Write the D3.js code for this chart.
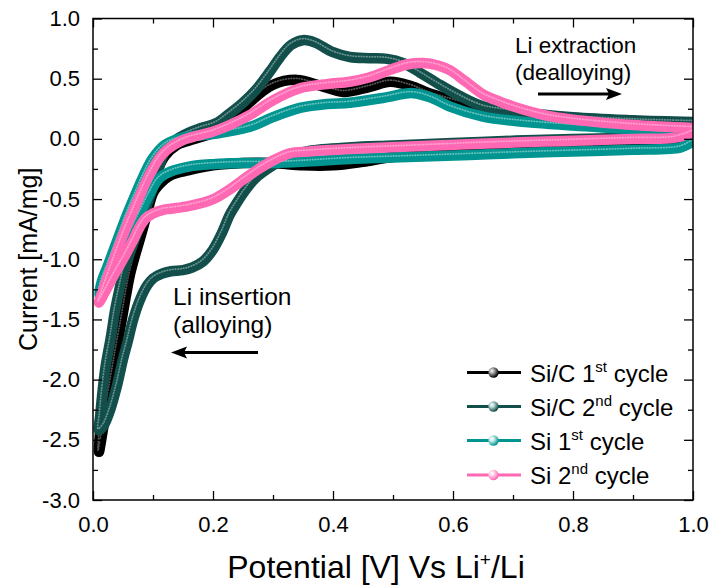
<!DOCTYPE html>
<html>
<head>
<meta charset="utf-8">
<script src="https://cdn.jsdelivr.net/npm/d3@7"></script>
<style>
  html, body { margin: 0; padding: 0; background: #fff; }
  svg { display: block; }
  text { font-family: "Liberation Sans", Arial, sans-serif; fill: #000; }
</style>
</head>
<body>
<svg id="chart" width="710" height="587"></svg>
<script>
// ---------------- DATA ----------------
// Each loop: cathodic sweep 1.0 V -> 0.01 V, then anodic sweep back to 1.0 V
const sic1Potential = [1.0, 0.9, 0.8, 0.7, 0.6, 0.5, 0.45, 0.4, 0.35, 0.3, 0.25, 0.2, 0.16, 0.13, 0.11, 0.1, 0.09, 0.08, 0.07, 0.062, 0.055, 0.048, 0.04, 0.032, 0.024, 0.017, 0.012, 0.01,
  0.013, 0.018, 0.025, 0.033, 0.04, 0.047, 0.055, 0.065, 0.077, 0.09, 0.105, 0.12, 0.14, 0.17, 0.2, 0.23, 0.26, 0.3, 0.34, 0.38, 0.417, 0.46, 0.495, 0.53, 0.56, 0.6, 0.65, 0.7, 0.8, 0.9, 1.0];
const sic1Current = [-0.02, -0.05, -0.07, -0.1, -0.12, -0.15, -0.19, -0.22, -0.22, -0.2, -0.2, -0.22, -0.26, -0.3, -0.38, -0.45, -0.62, -0.8, -0.97, -1.12, -1.3, -1.5, -1.72, -1.95, -2.18, -2.4, -2.55, -2.6,
  -2.35, -2.1, -1.85, -1.6, -1.4, -1.2, -1.02, -0.85, -0.66, -0.47, -0.28, -0.14, -0.05, 0.0, 0.05, 0.15, 0.3, 0.45, 0.49, 0.44, 0.39, 0.43, 0.475, 0.44, 0.38, 0.32, 0.26, 0.21, 0.16, 0.13, 0.11];

const sic2Potential = [1.0, 0.97, 0.9, 0.8, 0.645, 0.5, 0.43, 0.36, 0.33, 0.3, 0.27, 0.255, 0.24, 0.228, 0.215, 0.2, 0.183, 0.165, 0.15, 0.13, 0.115, 0.1, 0.09, 0.078, 0.067, 0.058, 0.05, 0.04, 0.028, 0.018, 0.01,
  0.012, 0.015, 0.021, 0.03, 0.037, 0.045, 0.052, 0.062, 0.075, 0.087, 0.1, 0.11, 0.12, 0.135, 0.155, 0.18, 0.205, 0.225, 0.25, 0.272, 0.295, 0.312, 0.33, 0.35, 0.37, 0.4, 0.428, 0.46, 0.49, 0.517, 0.545, 0.573, 0.61, 0.65, 0.7, 0.8, 0.9, 1.0];
const sic2Current = [0.1, 0.02, 0.01, 0.0, -0.025, -0.055, -0.07, -0.1, -0.14, -0.22, -0.33, -0.42, -0.53, -0.63, -0.78, -0.92, -1.02, -1.07, -1.09, -1.1, -1.12, -1.16, -1.22, -1.34, -1.5, -1.68, -1.83, -2.05, -2.26, -2.38, -2.42,
  -2.3, -2.14, -1.89, -1.64, -1.42, -1.23, -1.08, -0.94, -0.76, -0.59, -0.4, -0.24, -0.1, -0.02, 0.04, 0.09, 0.13, 0.2, 0.3, 0.41, 0.56, 0.68, 0.78, 0.82, 0.8, 0.72, 0.68, 0.67, 0.665, 0.63, 0.55, 0.465, 0.36, 0.27, 0.23, 0.18, 0.155, 0.14];

const si1Potential = [1.0, 0.98, 0.9, 0.8, 0.7, 0.628, 0.5, 0.428, 0.35, 0.3, 0.25, 0.2, 0.16, 0.13, 0.11, 0.095, 0.08, 0.06, 0.04, 0.025, 0.015, 0.01,
  0.015, 0.025, 0.04, 0.055, 0.07, 0.085, 0.1, 0.12, 0.15, 0.2, 0.262, 0.3, 0.345, 0.39, 0.428, 0.483, 0.533, 0.565, 0.595, 0.65, 0.7, 0.8, 0.9, 1.0];
const si1Current = [-0.02, -0.07, -0.09, -0.105, -0.12, -0.133, -0.155, -0.167, -0.19, -0.2, -0.2, -0.21, -0.23, -0.27, -0.33, -0.45, -0.6, -0.8, -1.0, -1.15, -1.25, -1.3,
  -1.18, -1.05, -0.85, -0.65, -0.47, -0.3, -0.16, -0.05, 0.01, 0.04, 0.1, 0.18, 0.257, 0.29, 0.3, 0.34, 0.38, 0.34, 0.268, 0.185, 0.15, 0.11, 0.08, 0.04];

const si2Potential = [1.0, 0.97, 0.9, 0.8, 0.645, 0.55, 0.428, 0.36, 0.328, 0.3, 0.273, 0.25, 0.228, 0.205, 0.19, 0.157, 0.13, 0.117, 0.1, 0.088, 0.078, 0.065, 0.05, 0.035, 0.02, 0.01,
  0.015, 0.028, 0.05, 0.073, 0.095, 0.117, 0.15, 0.2, 0.23, 0.262, 0.3, 0.345, 0.39, 0.428, 0.46, 0.495, 0.525, 0.55, 0.575, 0.595, 0.62, 0.65, 0.678, 0.7, 0.75, 0.8, 0.9, 1.0];
const si2Current = [0.06, 0.01, 0.0, -0.015, -0.04, -0.06, -0.085, -0.105, -0.12, -0.18, -0.26, -0.34, -0.42, -0.49, -0.52, -0.56, -0.58, -0.59, -0.62, -0.66, -0.73, -0.86, -1.0, -1.13, -1.27, -1.36,
  -1.28, -1.1, -0.8, -0.53, -0.29, -0.12, -0.01, 0.06, 0.12, 0.2, 0.32, 0.42, 0.455, 0.475, 0.51, 0.573, 0.62, 0.63, 0.61, 0.57, 0.48, 0.37, 0.31, 0.27, 0.2, 0.16, 0.115, 0.09];

const seriesNames = ["Si/C 1|st| cycle", "Si/C 2|nd| cycle", "Si 1|st| cycle", "Si 2|nd| cycle"];
const seriesColors = ["#000000", "#124f4b", "#009590", "#ff69b4"];
const highlightColors = ["#a8a8a8", "#b9d3d1", "#c4ecea", "#ffd6ea"];

const xTickValues = [0.0, 0.2, 0.4, 0.6, 0.8, 1.0];
const xMinorTickValues = [0.1, 0.3, 0.5, 0.7, 0.9];
const yTickValues = [-3.0, -2.5, -2.0, -1.5, -1.0, -0.5, 0.0, 0.5, 1.0];
const yMinorTickValues = [-2.75, -2.25, -1.75, -1.25, -0.75, -0.25, 0.25, 0.75];

// ---------------- CHART ----------------
const svg = d3.select("#chart");
const L = 93, R = 693, T = 18.5, B = 500;
const x = d3.scaleLinear().domain([0, 1]).range([L, R]);
const y = d3.scaleLinear().domain([-3, 1]).range([B, T]);

const seriesData = [
  d3.zip(sic1Potential, sic1Current),
  d3.zip(sic2Potential, sic2Current),
  d3.zip(si1Potential, si1Current),
  d3.zip(si2Potential, si2Current)
];

const defs = svg.append("defs");
defs.append("clipPath").attr("id", "plotclip")
  .append("rect").attr("x", L).attr("y", T).attr("width", R - L).attr("height", B - T);

seriesColors.forEach((c, i) => {
  const g = defs.append("radialGradient").attr("id", "ball" + i)
    .attr("cx", "35%").attr("cy", "35%").attr("r", "65%");
  g.append("stop").attr("offset", "0%").attr("stop-color", "#ffffff");
  g.append("stop").attr("offset", "35%").attr("stop-color", highlightColors[i]);
  g.append("stop").attr("offset", "100%").attr("stop-color", c);
});

const line = d3.line()
  .x(d => x(d[0]))
  .y(d => y(d[1]))
  .curve(d3.curveCatmullRom.alpha(0.5));

const plot = svg.append("g").attr("clip-path", "url(#plotclip)");
seriesData.forEach((data, i) => {
  const g = plot.append("g");
  g.append("path").datum(data).attr("d", line)
    .attr("fill", "none").attr("stroke", seriesColors[i])
    .attr("stroke-width", 10.5).attr("stroke-linejoin", "round").attr("stroke-linecap", "round");
  g.append("path").datum(data).attr("d", line)
    .attr("fill", "none").attr("stroke", highlightColors[i])
    .attr("stroke-width", 1.8).attr("stroke-linecap", "round")
    .attr("stroke-dasharray", "0.5 2.2").attr("opacity", 0.5)
    .attr("transform", "translate(-1,-1.5)");
});

// frame
svg.append("rect").attr("x", L).attr("y", T).attr("width", R - L).attr("height", B - T)
  .attr("fill", "none").attr("stroke", "#000").attr("stroke-width", 1.5);

// axes with inward ticks
function styleAxis(g) {
  g.select(".domain").remove();
  g.selectAll(".tick line").attr("stroke", "#000").attr("stroke-width", 1.3);
}
const fmt = d => d.toFixed(1);

svg.append("g").attr("transform", `translate(0,${B})`)
  .call(d3.axisBottom(x).tickValues(xTickValues).tickSize(-9).tickPadding(16).tickFormat(fmt))
  .call(styleAxis)
  .call(g => g.selectAll("text").attr("font-size", 22).attr("dy", "0.71em")
    .style("font-family", "'Liberation Sans', Arial, sans-serif"));
svg.append("g").attr("transform", `translate(0,${B})`)
  .call(d3.axisBottom(x).tickValues(xMinorTickValues).tickSize(-5).tickFormat(""))
  .call(styleAxis);
svg.append("g").attr("transform", `translate(0,${T})`)
  .call(d3.axisTop(x).tickValues(xTickValues).tickSize(-9).tickFormat(""))
  .call(styleAxis);
svg.append("g").attr("transform", `translate(0,${T})`)
  .call(d3.axisTop(x).tickValues(xMinorTickValues).tickSize(-5).tickFormat(""))
  .call(styleAxis);

svg.append("g").attr("transform", `translate(${L},0)`)
  .call(d3.axisLeft(y).tickValues(yTickValues).tickSize(-9).tickPadding(13).tickFormat(fmt))
  .call(styleAxis)
  .call(g => g.selectAll("text").attr("font-size", 22)
    .style("font-family", "'Liberation Sans', Arial, sans-serif"));
svg.append("g").attr("transform", `translate(${L},0)`)
  .call(d3.axisLeft(y).tickValues(yMinorTickValues).tickSize(-5).tickFormat(""))
  .call(styleAxis);
svg.append("g").attr("transform", `translate(${R},0)`)
  .call(d3.axisRight(y).tickValues(yTickValues).tickSize(-9).tickFormat(""))
  .call(styleAxis);
svg.append("g").attr("transform", `translate(${R},0)`)
  .call(d3.axisRight(y).tickValues(yMinorTickValues).tickSize(-5).tickFormat(""))
  .call(styleAxis);

// axis titles
const xt = svg.append("text").attr("x", 376).attr("y", 578)
  .attr("text-anchor", "middle").attr("font-size", 32);
xt.append("tspan").text("Potential [V] Vs Li");
xt.append("tspan").attr("dy", -12).attr("font-size", 19).text("+");
xt.append("tspan").attr("dy", 12).text("/Li");

svg.append("text").attr("transform", `translate(37,${(T + B) / 2}) rotate(-90)`)
  .attr("text-anchor", "middle").attr("font-size", 25).text("Current [mA/mg]");

// annotations
svg.append("text").attr("x", 515).attr("y", 53).attr("font-size", 22.5).text("Li extraction");
svg.append("text").attr("x", 515).attr("y", 80).attr("font-size", 22.5).text("(dealloying)");
svg.append("text").attr("x", 173).attr("y", 305).attr("font-size", 24.5).text("Li insertion");
svg.append("text").attr("x", 173).attr("y", 333).attr("font-size", 24.5).text("(alloying)");

function arrow(x1, x2, yy) {
  const dir = Math.sign(x2 - x1);
  svg.append("line").attr("x1", x1).attr("y1", yy).attr("x2", x2 - dir * 10).attr("y2", yy)
    .attr("stroke", "#000").attr("stroke-width", 3);
  svg.append("path")
    .attr("d", `M${x2},${yy} L${x2 - dir * 16},${yy - 6} L${x2 - dir * 13},${yy} L${x2 - dir * 16},${yy + 6} Z`)
    .attr("fill", "#000");
}
arrow(538, 622, 94);
arrow(258, 171, 352.5);

// legend
const legendRowY = [372.5, 406.5, 440.5, 475];
seriesNames.forEach((name, i) => {
  const ly = legendRowY[i];
  svg.append("line").attr("x1", 467).attr("x2", 521).attr("y1", ly).attr("y2", ly)
    .attr("stroke", seriesColors[i]).attr("stroke-width", 3);
  svg.append("circle").attr("cx", 493.5).attr("cy", ly).attr("r", 5.2)
    .attr("fill", `url(#ball${i})`);
  const parts = name.split("|");
  const t = svg.append("text").attr("x", 530).attr("y", ly + 9).attr("font-size", 24);
  t.append("tspan").text(parts[0]);
  t.append("tspan").attr("dy", -10).attr("font-size", 15).text(parts[1]);
  t.append("tspan").attr("dy", 10).text(parts[2]);
});
</script>
</body>
</html>
